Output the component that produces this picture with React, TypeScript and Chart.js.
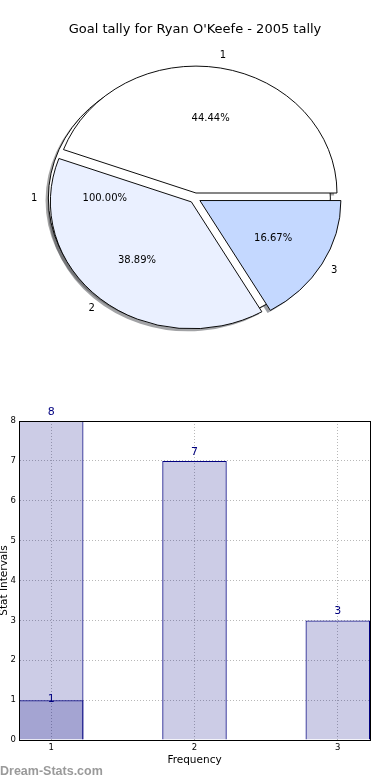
import React, { useEffect, useRef } from "react";
import { Chart, registerables } from "chart.js";

Chart.register(...registerables);

// ---------- data ----------
const TITLE = "Goal tally for Ryan O'Keefe - 2005 tally";
const PIE_LABELS = ["1", "2", "3"];
const PIE_VALUES = [8, 7, 3];
const PIE_COLORS = ["#ffffff", "#eaf0ff", "#c4d8ff"];
const FULL_LABELS = ["1"];
const FULL_VALUES = [1];
const FULL_COLORS = ["#ffffff"];

const BAR_X = [1, 2, 3];
const BAR_VALUES = [8, 7, 3];
const OVERLAY_X = [1];
const OVERLAY_VALUES = [1];
const X_TICKS = [1, 2, 3];
const Y_MIN = 0;
const Y_MAX = 8;
const X_TITLE = "Frequency";
const Y_TITLE = "Stat Intervals";
const WATERMARK = "Dream-Stats.com";
const BAR_WIDTH = 0.45;

// ---------- styles ----------
const FONT = '"DejaVu Sans", sans-serif';
const R = 141; // horizontal pie radius (px)
const K = 0.9; // vertical squash of the pie
const EXPLODE = 0.04;
const SHADOW = 0.02;
const LABEL_DIST = 1.1;
const PCT_DIST = 0.6;
const NAVY = "#000080";
const BAR_FILL = "rgba(0,0,128,0.2)";
const VALUE_LABEL_OFFSETS = [-9, -1];

function shadowOf(hex: string) {
  const n = parseInt(hex.slice(1), 16);
  const r = (n >> 16) & 255, g = (n >> 8) & 255, b = n & 255;
  return `rgba(${Math.round(r * 0.3)},${Math.round(g * 0.3)},${Math.round(b * 0.3)},0.5)`;
}

function centerOf(chart: any) {
  const ca = chart.chartArea;
  return { cx: (ca.left + ca.right) / 2, cy: (ca.top + ca.bottom) / 2 };
}

function ellipseTransform(ctx: CanvasRenderingContext2D, cx: number, cy: number, dx = 0, dy = 0) {
  ctx.translate(cx + dx, cy + dy);
  ctx.scale(1, -K);
  ctx.translate(-cx, -cy);
}

const piePlugin = {
  id: "pieFx",
  afterDatasetUpdate(chart: any, args: any) {
    const { cx, cy } = centerOf(chart);
    for (const el of args.meta.data) {
      const mid = (el.startAngle + el.endAngle) / 2;
      el.x = cx + Math.cos(mid) * EXPLODE * R;
      el.y = cy + Math.sin(mid) * EXPLODE * R;
      el.outerRadius = R;
      el.innerRadius = 0;
    }
  },
  beforeDatasetsDraw(chart: any) {
    const ctx = chart.ctx as CanvasRenderingContext2D;
    const { cx, cy } = centerOf(chart);
    ctx.save();
    ellipseTransform(ctx, cx, cy, -SHADOW * R, SHADOW * R * K);
    const metas = chart.getSortedVisibleDatasetMetas().slice().reverse();
    for (const meta of metas) {
      const colors = chart.data.datasets[meta.index].backgroundColor as string[];
      meta.data.forEach((el: any, i: number) => {
        const col = shadowOf(colors[i % colors.length]);
        ctx.beginPath();
        if (el.circumference >= Math.PI * 2 - 1e-6) {
          ctx.arc(el.x, el.y, el.outerRadius, 0, Math.PI * 2);
        } else {
          ctx.moveTo(el.x, el.y);
          ctx.arc(el.x, el.y, el.outerRadius, el.startAngle, el.endAngle);
          ctx.closePath();
        }
        ctx.fillStyle = col;
        ctx.fill();
      });
    }
    ctx.restore();
    ctx.save();
    ellipseTransform(ctx, cx, cy);
  },
  afterDatasetDraw(chart: any, args: any) {
    const ds = chart.data.datasets[args.index];
    if (ds.borderWidth) return;
    const ctx = chart.ctx as CanvasRenderingContext2D;
    ctx.save();
    ctx.strokeStyle = "#000";
    ctx.lineWidth = 1;
    for (const el of args.meta.data) {
      ctx.beginPath();
      ctx.arc(el.x, el.y, el.outerRadius, 0, Math.PI * 2);
      ctx.stroke();
    }
    ctx.restore();
  },
  afterDatasetsDraw(chart: any) {
    const ctx = chart.ctx as CanvasRenderingContext2D;
    ctx.restore();
    const { cy } = centerOf(chart);
    ctx.save();
    ctx.font = `10px ${FONT}`;
    ctx.fillStyle = "#000";
    ctx.textAlign = "center";
    ctx.textBaseline = "middle";
    for (const meta of chart.getSortedVisibleDatasetMetas()) {
      const ds = chart.data.datasets[meta.index];
      const vals = ds.data as number[];
      const total = vals.reduce((a, b) => a + b, 0);
      meta.data.forEach((el: any, i: number) => {
        const mid = (el.startAngle + el.endAngle) / 2;
        const put = (f: number, text: string) => {
          const lx = el.x + Math.cos(mid) * f * el.outerRadius;
          const ly = el.y + Math.sin(mid) * f * el.outerRadius;
          ctx.fillText(text, lx, cy - K * (ly - cy));
        };
        put(LABEL_DIST, ds.sliceLabels[i]);
        put(PCT_DIST, ((vals[i] / total) * 100).toFixed(2) + "%");
      });
    }
    ctx.restore();
  },
};

const barPlugin = {
  id: "barFx",
  afterDraw(chart: any) {
    const ctx = chart.ctx as CanvasRenderingContext2D;
    const ca = chart.chartArea;
    ctx.save();
    // value labels
    ctx.font = `11px ${FONT}`;
    ctx.fillStyle = NAVY;
    ctx.textAlign = "center";
    ctx.textBaseline = "middle";
    for (const meta of chart.getSortedVisibleDatasetMetas()) {
      const vals = chart.data.datasets[meta.index].data as any[];
      meta.data.forEach((el: any, i: number) => {
        ctx.fillText(String(vals[i].y), el.x, el.y + VALUE_LABEL_OFFSETS[meta.index]);
      });
    }
    // axes box
    ctx.strokeStyle = "#000";
    ctx.lineWidth = 1;
    const l = Math.round(ca.left) + 0.5, t = Math.round(ca.top) + 0.5;
    const r = Math.round(ca.right) + 0.5, b = Math.round(ca.bottom) + 0.5;
    ctx.strokeRect(l, t, r - l, b - t);
    // watermark
    ctx.font = `bold 12.5px "Liberation Sans", sans-serif`;
    ctx.fillStyle = "#9a9a9a";
    ctx.textAlign = "left";
    ctx.textBaseline = "alphabetic";
    ctx.fillText(WATERMARK, 0, 378.5);
    ctx.restore();
  },
};

export default function App() {
  const pieRef = useRef<HTMLCanvasElement>(null);
  const barRef = useRef<HTMLCanvasElement>(null);

  useEffect(() => {
    const pie = new Chart(pieRef.current as HTMLCanvasElement, {
      type: "pie",
      data: {
        labels: PIE_LABELS,
        datasets: [
          {
            data: PIE_VALUES,
            backgroundColor: PIE_COLORS,
            borderColor: "#000",
            borderWidth: 1,
            clip: false,
            sliceLabels: PIE_LABELS,
          } as any,
          {
            data: FULL_VALUES,
            backgroundColor: FULL_COLORS,
            borderWidth: 0,
            clip: false,
            sliceLabels: FULL_LABELS,
          } as any,
        ],
      },
      options: {
        animation: false,
        responsive: false,
        events: [],
        rotation: 90,
        radius: R,
        layout: { padding: { top: 0, bottom: 37.3, left: 0, right: 0 } },
        plugins: {
          legend: { display: false },
          tooltip: { enabled: false },
          title: {
            display: true,
            text: TITLE,
            color: "#000",
            font: { family: FONT, size: 13, weight: "normal" },
            padding: { top: 21.7, bottom: 0 },
          },
        },
      } as any,
      plugins: [piePlugin as any],
    });

    const barDs = (xs: number[], ys: number[]) => ({
      data: xs.map((x, i) => ({ x, y: ys[i] })),
      backgroundColor: BAR_FILL,
      borderColor: NAVY,
      borderWidth: 1,
      grouped: false,
      barPercentage: BAR_WIDTH,
      categoryPercentage: 1,
    });

    const tickFont = { family: FONT, size: 8.5 };
    const bar = new Chart(barRef.current as HTMLCanvasElement, {
      type: "bar",
      data: {
        datasets: [barDs(BAR_X, BAR_VALUES), barDs(OVERLAY_X, OVERLAY_VALUES)] as any,
      },
      options: {
        animation: false,
        responsive: false,
        events: [],
        layout: { padding: { left: 0, right: 20, top: 25, bottom: 0 } },
        plugins: { legend: { display: false }, tooltip: { enabled: false } },
        scales: {
          x: {
            type: "linear",
            min: X_TICKS[0] - BAR_WIDTH / 2,
            max: X_TICKS[X_TICKS.length - 1] + BAR_WIDTH / 2,
            offset: false,
            z: 1,
            afterBuildTicks: (s: any) => {
              s.ticks = X_TICKS.map((v) => ({ value: v }));
            },
            afterFit: (s: any) => {
              s.height = 40;
            },
            grid: { color: "#b8b8b8", lineWidth: 1, drawTicks: false, offset: false },
            border: { display: true, color: "#000", width: 1, dash: [1, 2] },
            ticks: { padding: 3, font: tickFont, color: "#000", maxRotation: 0 },
            title: {
              display: true,
              text: X_TITLE,
              color: "#000",
              font: { family: FONT, size: 10.5 },
              padding: { top: 0, bottom: 13.7 },
            },
          },
          y: {
            type: "linear",
            min: Y_MIN,
            max: Y_MAX,
            z: 1,
            afterFit: (s: any) => {
              s.width = 19;
            },
            grid: { color: "#b8b8b8", lineWidth: 1, drawTicks: false },
            border: { display: true, color: "#000", width: 1, dash: [1, 2] },
            ticks: { stepSize: 1, padding: 3, font: tickFont, color: "#000" },
            title: {
              display: true,
              text: Y_TITLE,
              color: "#000",
              font: { family: FONT, size: 10.5 },
              padding: { top: -2.5, bottom: 0 },
            },
          },
        },
      } as any,
      plugins: [barPlugin as any],
    });

    return () => {
      pie.destroy();
      bar.destroy();
    };
  }, []);

  return (
    <div style={{ position: "absolute", left: 0, top: 0, width: 390, height: 780, background: "#fff" }}>
      <canvas ref={pieRef} width={390} height={396} style={{ position: "absolute", left: 0, top: 0 }} />
      <canvas ref={barRef} width={390} height={384} style={{ position: "absolute", left: 0, top: 396 }} />
    </div>
  );
}
